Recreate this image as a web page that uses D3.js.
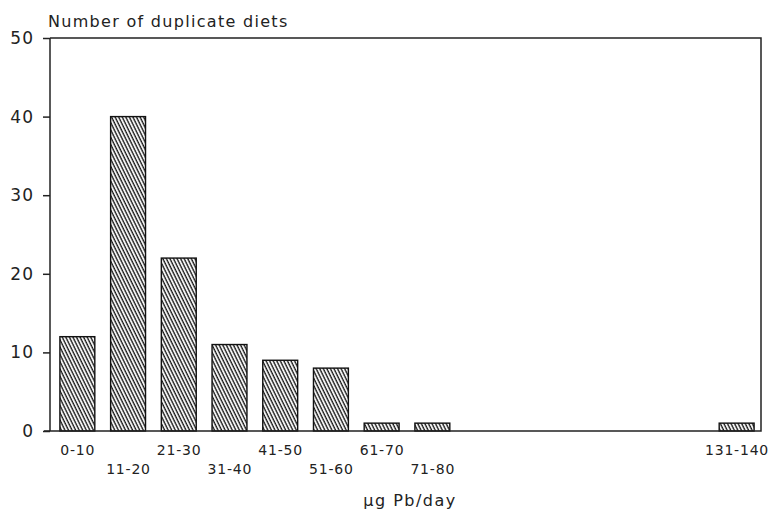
<!DOCTYPE html>
<html>
<head>
<meta charset="utf-8">
<script src="https://cdn.jsdelivr.net/npm/d3@7"></script>
<style>
  html, body { margin: 0; padding: 0; background: #fff; }
  svg { display: block; }
  text { font-family: "DejaVu Sans", "Liberation Sans", sans-serif; fill: #222; }
</style>
</head>
<body>
<svg id="chart" width="770" height="511"></svg>
<script>
// Daily lead intake classes (µg Pb/day) and number of duplicate diets in each
const binStarts = [0, 10, 20, 30, 40, 50, 60, 70, 130];
const binLabels = ["0-10", "11-20", "21-30", "31-40", "41-50", "51-60", "61-70", "71-80", "131-140"];
const counts = [12, 40, 22, 11, 9, 8, 1, 1, 1];
const yTicks = [0, 10, 20, 30, 40, 50];

const svg = d3.select("#chart");
const plotLeft = 50, plotRight = 761, plotTop = 38, plotBottom = 431;

const x = d3.scaleLinear().domain([0, 140]).range([52, 762]);
const y = d3.scaleLinear().domain([0, 50]).range([plotBottom, plotTop]);

// diagonal hatching for the bars
const defs = svg.append("defs");
const pat = defs.append("pattern")
  .attr("id", "hatch")
  .attr("patternUnits", "userSpaceOnUse")
  .attr("width", 3.2).attr("height", 10)
  .attr("patternTransform", "rotate(-26)");
pat.append("line")
  .attr("x1", 1).attr("y1", -1).attr("x2", 1).attr("y2", 11)
  .attr("stroke", "#1a1a1a").attr("stroke-width", 1.4);

// bars
const pad = 7.9;
svg.append("g").selectAll("rect")
  .data(counts)
  .join("rect")
  .attr("x", (d, i) => x(binStarts[i]) + pad)
  .attr("width", (d, i) => x(binStarts[i] + 10) - x(binStarts[i]) - 2 * pad)
  .attr("y", d => y(d))
  .attr("height", d => y(0) - y(d))
  .attr("fill", "url(#hatch)")
  .attr("stroke", "#111")
  .attr("stroke-width", 1.4);

// frame: left axis, top, right and baseline
const frame = svg.append("g").attr("fill", "none").attr("stroke", "#222").attr("stroke-width", 1.5);
frame.append("path").attr("d", `M${plotLeft},${plotTop}H${plotRight}V${plotBottom}H${plotLeft - 6}`);
frame.append("line").attr("x1", plotLeft).attr("x2", plotLeft).attr("y1", plotTop).attr("y2", plotBottom);

// y axis ticks and labels
const yAxis = d3.axisLeft(y).tickValues(yTicks).tickSize(7).tickPadding(9);
const gy = svg.append("g").attr("transform", `translate(${plotLeft},0)`).call(yAxis);
gy.select(".domain").remove();
gy.selectAll(".tick line").attr("stroke", "#222").attr("stroke-width", 1.5);
gy.selectAll(".tick text")
  .style("font-family", "'DejaVu Sans', sans-serif")
  .style("font-size", "17px")
  .style("letter-spacing", "1px")
  .attr("fill", "#222");

// x labels, staggered on two rows
svg.append("g").selectAll("text")
  .data(binLabels)
  .join("text")
  .attr("x", (d, i) => x(binStarts[i] + 5) + 0.4)
  .attr("y", (d, i) => (i % 2 === 0 || i === binLabels.length - 1) ? 455 : 474)
  .attr("text-anchor", "middle")
  .style("font-size", "14px")
  .style("letter-spacing", "0.8px")
  .text(d => d);

// axis titles
svg.append("text")
  .attr("x", 48).attr("y", 27)
  .style("font-size", "16px")
  .style("letter-spacing", "1.3px")
  .text("Number of duplicate diets");

svg.append("text")
  .attr("x", 410).attr("y", 506)
  .attr("text-anchor", "middle")
  .style("font-size", "16px")
  .style("letter-spacing", "1.5px")
  .text("µg Pb/day");
</script>
</body>
</html>
